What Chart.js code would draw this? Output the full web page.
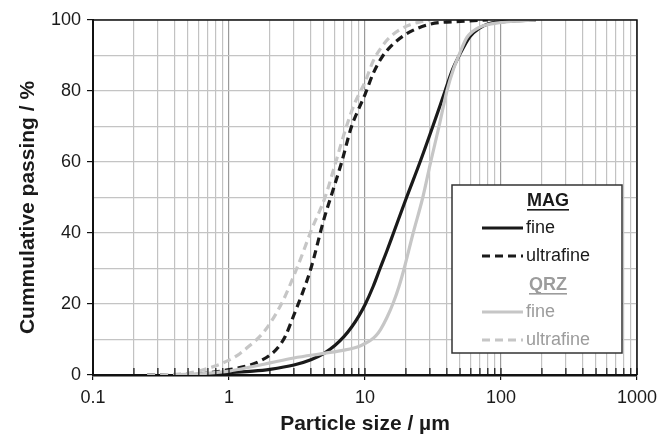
<!DOCTYPE html>
<html>
<head>
<meta charset="utf-8">
<script src="https://cdn.jsdelivr.net/npm/chart.js@4"></script>
<style>
  html, body { margin: 0; padding: 0; background: #fff; }
  #wrap { width: 670px; height: 435px; }
</style>
</head>
<body>
<div id="wrap"><canvas id="psd"></canvas></div>
<script>
// particle size (µm) and cumulative passing (%)
const magFineX = [0.4, 0.6, 1, 1.5, 2, 3, 4, 5, 6, 7, 8, 9, 10, 11.5, 12.9, 14.5, 16.2, 20.2, 25.4, 31.5, 38.8, 44, 49.3, 59, 69, 80, 100, 130, 180];
const magFineY = [0, 0.2, 0.7, 1.1, 1.6, 2.8, 4.3, 6.1, 8.3, 10.8, 13.6, 16.6, 19.8, 25, 30, 35, 40, 50, 60, 70, 80, 86, 90, 95.3, 97.6, 98.9, 99.5, 99.8, 100];

const magUltraX = [0.25, 0.5, 0.7, 1, 1.43, 1.7, 2, 2.3, 2.6, 3, 3.5, 4, 5, 5.7, 6.74, 7.96, 9, 10, 11.5, 13.3, 15.4, 20, 30, 50, 80];
const magUltraY = [0, 0.1, 0.6, 1.5, 2.8, 4, 5.6, 7.8, 11, 16.9, 23.5, 30, 44, 51, 60, 70, 75, 79, 85, 89.5, 92.5, 96, 98.8, 99.6, 100];

const qrzFineX = [0.4, 0.7, 1, 1.5, 2, 3, 5, 7, 9.2, 10, 11, 12, 13, 14.5, 16.2, 17.8, 19.4, 22.6, 26.6, 30.4, 35, 40, 45, 49, 56, 70, 100, 180];
const qrzFineY = [0, 0.5, 1.1, 2.4, 3.4, 4.8, 6.1, 7.0, 8.2, 8.9, 9.8, 11, 12.8, 16.2, 20.5, 25, 30, 40, 50, 60, 70, 80, 86.5, 90, 95, 98, 99.3, 100];

const qrzUltraX = [0.25, 0.4, 0.5, 0.61, 0.8, 1, 1.2, 1.43, 1.7, 2, 2.5, 3, 3.5, 4, 5.08, 6.1, 7.3, 8.5, 10, 11.5, 13.3, 15.4, 20, 25, 30];
const qrzUltraY = [0, 0.2, 0.5, 1.2, 2.6, 4.2, 6, 8.4, 11, 14.5, 21, 28, 34.5, 40.5, 50, 60, 70, 77, 82.5, 88.5, 92.5, 95.3, 98.2, 99.4, 100];

const xMajorTicks = [0.1, 1, 10, 100, 1000];
const yTicks = [0, 20, 40, 60, 80, 100];

const BLACK = '#1a1a1a';
const GREY = '#c6c6c6';
const FONT = '"Liberation Sans", Arial, sans-serif';

function pts(xs, ys) {
  return xs.map((x, i) => ({ x: x, y: ys[i] }));
}

const isMajorX = (v) => xMajorTicks.some((m) => Math.abs(m - v) < m * 1e-6);

// legend box drawn inside the plot, like the original figure
const boxLegend = {
  id: 'boxLegend',
  afterDatasetsDraw(chart) {
    const { ctx, chartArea } = chart;
    const left = chartArea.right - 185;
    const top = chartArea.top + 165;
    const w = 170, h = 168;
    ctx.save();
    ctx.fillStyle = '#fff';
    ctx.fillRect(left, top, w, h);
    ctx.strokeStyle = '#333';
    ctx.lineWidth = 1.5;
    ctx.strokeRect(left, top, w, h);

    const cx = left + 96;
    const lx0 = left + 30, lx1 = left + 71, tx = left + 74;
    const groups = [
      { title: 'MAG', color: BLACK, textColor: BLACK, y: top + 16 },
      { title: 'QRZ', color: GREY, textColor: '#9c9c9c', y: top + 100 }
    ];
    ctx.textBaseline = 'middle';
    groups.forEach((g) => {
      ctx.font = 'bold 18px ' + FONT;
      ctx.fillStyle = g.textColor;
      ctx.textAlign = 'center';
      ctx.fillText(g.title, cx, g.y);
      const tw = ctx.measureText(g.title).width;
      ctx.fillRect(cx - tw / 2, g.y + 8, tw, 1.6);

      ['fine', 'ultrafine'].forEach((name, k) => {
        const y = g.y + 27 + k * 28;
        ctx.strokeStyle = g.color;
        ctx.lineWidth = 3.2;
        ctx.setLineDash(k === 1 ? [8, 5] : []);
        ctx.beginPath();
        ctx.moveTo(lx0, y);
        ctx.lineTo(lx1, y);
        ctx.stroke();
        ctx.setLineDash([]);
        ctx.font = '18px ' + FONT;
        ctx.textAlign = 'left';
        ctx.fillText(name, tx, y);
      });
    });
    ctx.restore();
  },
  afterDraw(chart) {
    // frame, inner ticks along the x axis, y axis title
    const { ctx, chartArea, scales } = chart;
    ctx.save();
    ctx.strokeStyle = '#111';
    ctx.lineWidth = 1.5;
    ctx.beginPath();
    ctx.moveTo(chartArea.left, chartArea.top);
    ctx.lineTo(chartArea.right, chartArea.top);
    ctx.lineTo(chartArea.right, chartArea.bottom);
    ctx.stroke();
    ctx.lineWidth = 1.2;
    scales.x.ticks.forEach((t) => {
      const px = scales.x.getPixelForValue(t.value);
      ctx.beginPath();
      ctx.moveTo(px, chartArea.bottom);
      ctx.lineTo(px, chartArea.bottom - 7);
      ctx.stroke();
    });

    ctx.translate(28, (chartArea.top + chartArea.bottom) / 2 + 10);
    ctx.rotate(-Math.PI / 2);
    ctx.font = 'bold 21px ' + FONT;
    ctx.fillStyle = BLACK;
    ctx.textAlign = 'center';
    ctx.textBaseline = 'middle';
    ctx.fillText('Cummulative passing / %', 0, 0);
    ctx.restore();
  }
};

new Chart(document.getElementById('psd'), {
  type: 'line',
  data: {
    datasets: [
      { label: 'QRZ ultrafine', data: pts(qrzUltraX, qrzUltraY), borderColor: GREY, borderDash: [8, 5] },
      { label: 'QRZ fine', data: pts(qrzFineX, qrzFineY), borderColor: GREY },
      { label: 'MAG ultrafine', data: pts(magUltraX, magUltraY), borderColor: BLACK, borderDash: [8, 5] },
      { label: 'MAG fine', data: pts(magFineX, magFineY), borderColor: BLACK }
    ]
  },
  options: {
    responsive: true,
    maintainAspectRatio: false,
    animation: false,
    layout: { padding: { top: 20, right: 33, left: 0, bottom: 0 } },
    elements: {
      point: { radius: 0 },
      line: { borderWidth: 3.2, cubicInterpolationMode: 'monotone', fill: false }
    },
    plugins: {
      legend: { display: false },
      tooltip: { enabled: false }
    },
    scales: {
      x: {
        type: 'logarithmic',
        min: 0.1,
        max: 1000,
        afterBuildTicks(scale) {
          const ticks = [];
          for (let i = 0; i < xMajorTicks.length - 1; i++) {
            for (let m = 1; m < 10; m++) ticks.push({ value: xMajorTicks[i] * m });
          }
          ticks.push({ value: xMajorTicks[xMajorTicks.length - 1] });
          scale.ticks = ticks;
        },
        afterFit(scale) { scale.height = 60; },
        border: { color: '#111', width: 2.5 },
        grid: {
          color: (c) => (c.tick && isMajorX(c.tick.value) ? '#9a9a9a' : '#c2c2c2'),
          lineWidth: 1.2,
          tickLength: 5,
          tickColor: (c) => (c.tick && isMajorX(c.tick.value) ? '#111' : 'rgba(0,0,0,0)')
        },
        ticks: {
          autoSkip: false,
          maxRotation: 0,
          padding: 7,
          color: BLACK,
          font: { family: FONT, size: 18 },
          callback: (v) => (isMajorX(v) ? String(v) : '')
        },
        title: {
          display: true,
          text: 'Particle size / µm',
          color: BLACK,
          padding: { top: 0, bottom: 0 },
          font: { family: FONT, size: 21, weight: 'bold', lineHeight: 1 }
        }
      },
      y: {
        min: 0,
        max: 100,
        afterFit(scale) { scale.width = 93; },
        border: { color: '#111', width: 2 },
        grid: {
          color: '#c4c4c4',
          lineWidth: 1.2,
          tickLength: 6,
          tickColor: (c) => (c.tick && yTicks.includes(c.tick.value) ? '#111' : 'rgba(0,0,0,0)')
        },
        ticks: {
          stepSize: 10,
          padding: 6,
          color: BLACK,
          font: { family: FONT, size: 18 },
          callback: (v) => (yTicks.includes(v) ? String(v) : '')
        }
      }
    }
  },
  plugins: [boxLegend]
});
</script>
</body>
</html>
